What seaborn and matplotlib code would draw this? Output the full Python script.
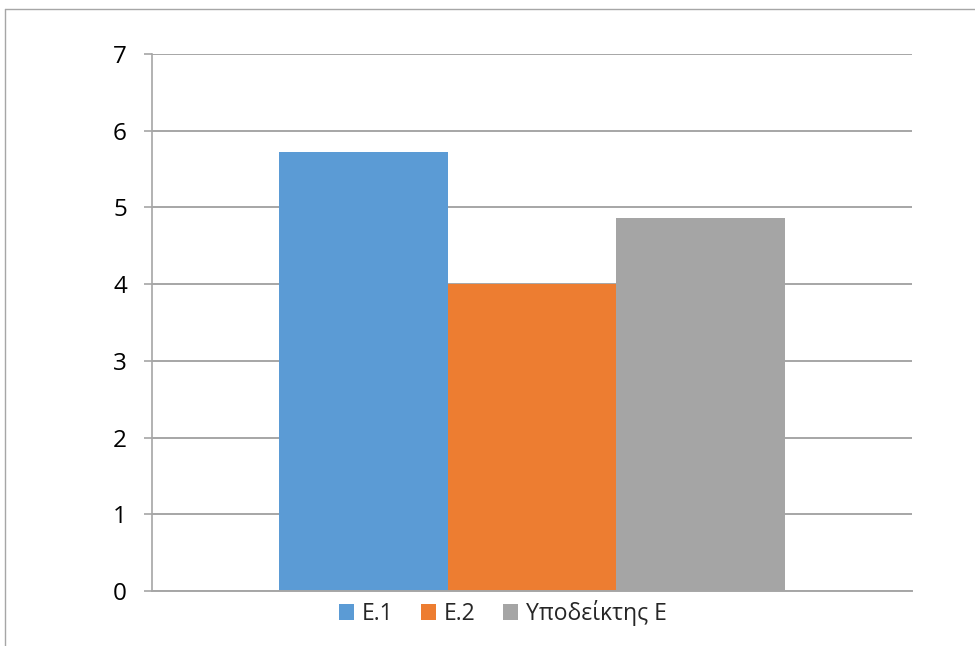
import matplotlib
matplotlib.use("Agg")
import matplotlib.pyplot as plt
from matplotlib.lines import Line2D
from matplotlib.patches import Patch
import pandas as pd
import seaborn as sns

# Series shown in the chart
series = ["Ε.1", "Ε.2", "Υποδείκτης Ε"]
values = [5.72, 4.0, 4.86]
colors = ["#5B9BD5", "#ED7D31", "#A5A5A5"]
y_ticks = [0, 1, 2, 3, 4, 5, 6, 7]

df = pd.DataFrame({"group": ["Ε"] * len(series), "series": series, "value": values})

sns.set_style("white")
plt.rcParams["font.family"] = ["Open Sans", "DejaVu Sans"]

fig = plt.figure(figsize=(9.75, 6.46), dpi=100)
ax = fig.add_axes([152 / 975, 1 - 591 / 646, 760 / 975, (591 - 54) / 646])

sns.barplot(data=df, x="group", y="value", hue="series", palette=colors,
            width=2 / 3, gap=0, saturation=1, linewidth=0, ax=ax, legend=False)

ax.set_xlim(-0.5, 0.5)
ax.set_ylim(0, 7)
ax.set_yticks(y_ticks)
ax.set_yticklabels([str(t) for t in y_ticks], fontsize=17.5, color="#000000")
ax.set_xticks([])
ax.set_xlabel("")
ax.set_ylabel("")

# Horizontal gridlines behind the bars
ax.set_axisbelow(True)
ax.yaxis.grid(True, color="#a6a6a6", linewidth=1.4)
ax.tick_params(axis="y", length=6, width=1.2, color="#a6a6a6", pad=12, left=True)

for side in ["top", "right"]:
    ax.spines[side].set_visible(False)
ax.spines["left"].set_color("#a6a6a6")
ax.spines["left"].set_linewidth(1.2)
ax.spines["bottom"].set_color("#a6a6a6")
ax.spines["bottom"].set_linewidth(1.4)

# Legend under the plot area
handles = [Patch(facecolor=c, edgecolor="none") for c in colors]
fig.legend(handles, series, loc="center", bbox_to_anchor=(503 / 975, 1 - 613 / 646),
           ncol=3, frameon=False, fontsize=16.5, handlelength=0.65, handleheight=0.65,
           handletextpad=0.35, columnspacing=1.2)

# Chart-area border (top and left edges)
fig.add_artist(Line2D([5 / 975, 1.0], [1 - 9 / 646, 1 - 9 / 646], color="#a6a6a6",
                      linewidth=1.0, transform=fig.transFigure))
fig.add_artist(Line2D([5 / 975, 5 / 975], [0.0, 1 - 9 / 646], color="#a6a6a6",
                      linewidth=1.0, transform=fig.transFigure))

fig.savefig("out.png", dpi=100, facecolor="white")
